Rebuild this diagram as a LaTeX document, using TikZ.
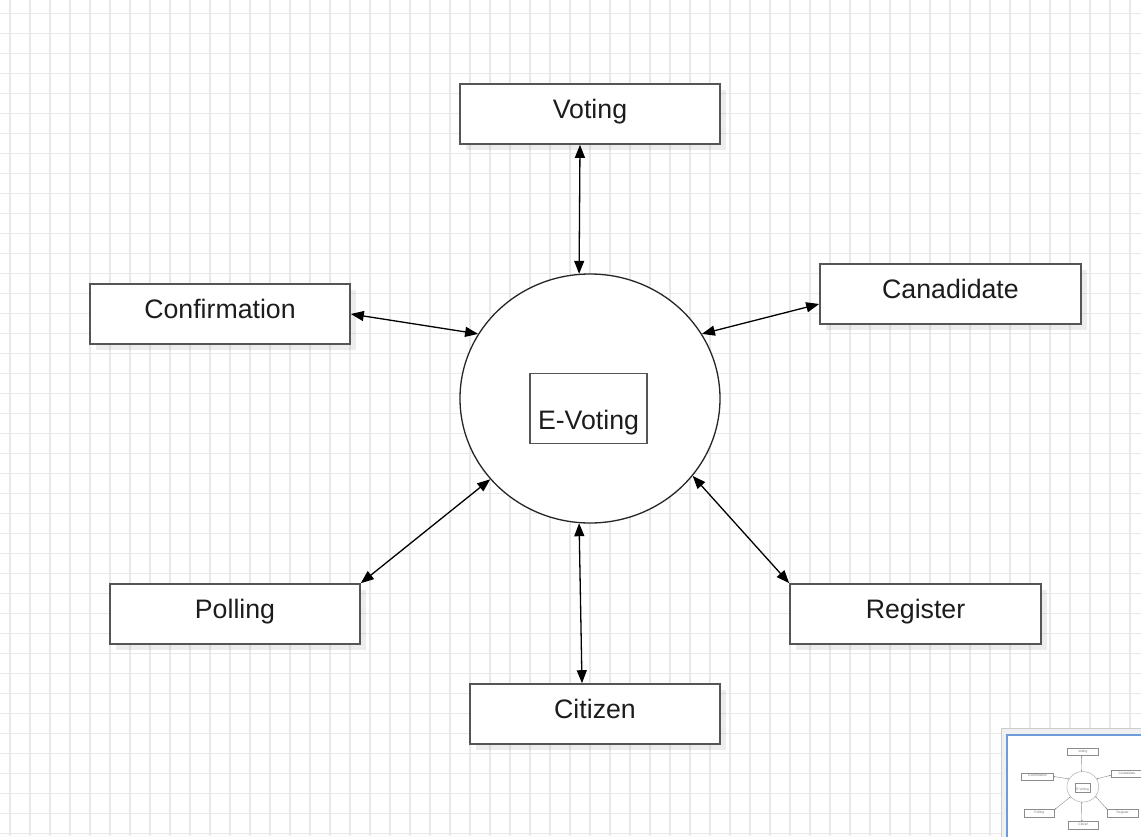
\documentclass[tikz,border=0pt]{standalone}
\usepackage{fontspec}
\setmainfont{Liberation Sans}
\usetikzlibrary{shapes.geometric,arrows.meta,shadows}
\definecolor{gridc}{RGB}{233,233,233}
\definecolor{boxc}{RGB}{85,85,85}
\definecolor{txtc}{RGB}{28,28,28}
\definecolor{mapblue}{RGB}{110,155,220}
\newcommand\lblfont{\fontsize{26.7pt}{30pt}\selectfont}
\newcommand\evdiag[1]{%
  \node[box, minimum width=260pt] (#1vot) at (590,114) {Voting};
  \node[box, minimum width=260pt] (#1conf) at (220,314) {Confirmation};
  \node[box, minimum width=261pt] (#1cand) at (950.5,294) {Canadidate};
  \node[box, minimum width=250pt] (#1pol) at (235,614) {Polling};
  \node[box, minimum width=251pt] (#1reg) at (915.5,614) {Register};
  \node[box, minimum width=250pt] (#1cit) at (595,714) {Citizen};
  \node[ring] (#1ev) at (590,398.5) {};
  \node[inbox] (#1evt) at (588.5,408.5) {E-Voting};
  \draw[conn] ([xshift=-10pt]#1vot.south) -- (#1ev.95);
  \draw[conn] (#1conf.east) -- (#1ev.150);
  \draw[conn] ([yshift=-10pt]#1cand.west) -- (#1ev.30);
  \draw[conn] (#1pol.north east) -- (#1ev.219);
  \draw[conn] (#1reg.north west) -- (#1ev.323);
  \draw[conn] ([xshift=-13pt]#1cit.north) -- (#1ev.265);
}
\begin{document}
\begin{tikzpicture}[x=1pt,y=-1pt,
  shad/.style={drop shadow={shadow xshift=6pt, shadow yshift=-6pt, fill=black, opacity=0.07}},
  box/.style={rectangle, draw=boxc, line width=1.6pt, fill=white, minimum height=60pt, inner sep=0pt,
    font=\lblfont, text=txtc, text height=19.5pt, text depth=11pt, shad},
  ring/.style={ellipse, draw=black!85, line width=1.3pt, fill=white, minimum width=260pt,
    minimum height=249pt, inner sep=0pt},
  inbox/.style={rectangle, draw=boxc, line width=1.6pt, minimum width=117pt, minimum height=70pt,
    inner sep=0pt, font=\lblfont, text=txtc, text height=50pt, text depth=8.6pt},
  conn/.style={line width=1.3pt, black, {Triangle[length=13pt,width=10pt]}-{Triangle[length=13pt,width=10pt]}}]
  \useasboundingbox[fill=white] (0,0) rectangle (1141,836);
  % grid
  \foreach \gx in {10,30,...,1130} \draw[gridc, line width=1.3pt] (\gx,0) -- (\gx,836);
  \foreach \gy in {13.3,33.3,...,835} \draw[gridc, line width=1.3pt] (0,\gy) -- (1141,\gy);
  % main diagram
  \evdiag{}
  % outline (minimap)
  \begin{scope}
    \clip (1001,728) rectangle (1141,836);
    \draw[fill=black!6, draw=black!20, line width=0.8pt] (1001,728) rectangle (1160,850);
    \draw[fill=white, draw=mapblue, line width=1.2pt] (1007,735) rectangle (1160,850);
    \begin{scope}[shift={(1010.55,738)}, scale=0.1225, transform shape,
      box/.style={rectangle, draw=black!45, line width=0.6pt, fill=white, minimum height=60pt, inner sep=0pt,
        font=\lblfont, text=black!55, text height=19.5pt, text depth=11pt},
      ring/.style={ellipse, draw=black!30, line width=0.5pt, fill=white, minimum width=260pt,
        minimum height=249pt, inner sep=0pt},
      inbox/.style={rectangle, draw=black!45, line width=0.6pt, minimum width=117pt, minimum height=70pt,
        inner sep=0pt, font=\lblfont, text=black!55, text height=50pt, text depth=8.6pt},
      conn/.style={line width=0.4pt, black!45, {Triangle[length=1.6pt,width=1.3pt]}-{Triangle[length=1.6pt,width=1.3pt]}}]
      \evdiag{m}
    \end{scope}
  \end{scope}
\end{tikzpicture}
\end{document}
